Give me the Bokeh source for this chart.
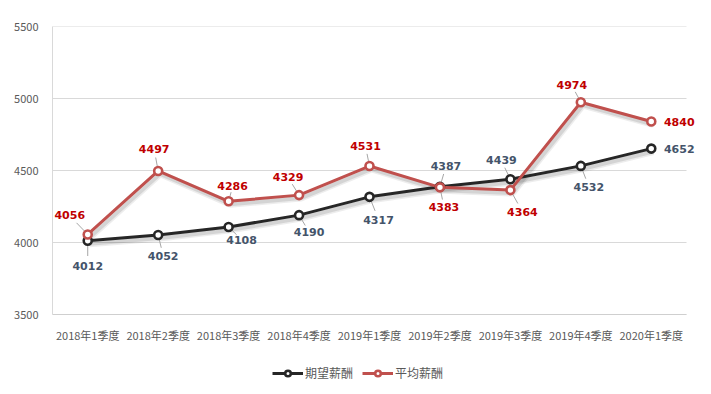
from bokeh.plotting import figure
from bokeh.layouts import column
from bokeh.models import ColumnDataSource, FixedTicker, Legend, LegendItem, Range1d
from bokeh.core.properties import value
from bokeh.embed import file_html
from bokeh.resources import INLINE

# ---- data ----
categories = ["2018年1季度", "2018年2季度", "2018年3季度", "2018年4季度", "2019年1季度",
              "2019年2季度", "2019年3季度", "2019年4季度", "2020年1季度"]
expected_salary = [4012, 4052, 4108, 4190, 4317, 4387, 4439, 4532, 4652]
average_salary = [4056, 4497, 4286, 4329, 4531, 4383, 4364, 4974, 4840]
y_ticks = [3500, 4000, 4500, 5000, 5500]
series_names = ["期望薪酬", "平均薪酬"]

# ---- label offsets in screen pixels (styling) ----
exp_dx = [0, 5, 13, 10, 9, 6, -9, 8, 28]
exp_dy = [25, 21, 13, 17, 23, -21, -19, 21, 0]
avg_dx = [-18, -4, 4, -11, -4, 4, 12, -9, 28]
avg_dy = [-19, -22, -15, -18, -20, 20, 22, -17, 0]
exp_leader = [True] * 8 + [False]
avg_leader = [True] * 8 + [False]

# ---- layout (styling) ----
W = 711
H1, H2 = 345, 49
BL, BR, BT, BB = 52, 5, 26, 26
PLOT_W = 634          # width that the 9 categories occupy
YMIN, YMAX = 3500, 5500
n = len(categories)
xs_px = PLOT_W / n
ys_px = (H1 - BT - BB) / (YMAX - YMIN)
x_end = -0.5 + (W - BL - BR) / xs_px

BLACK = "#262626"
RED = "#C0504D"
GRID = "#D9D9D9"

p = figure(width=W, height=H1, output_backend="svg", toolbar_location=None,
           x_range=Range1d(-0.5, x_end), y_range=Range1d(YMIN, YMAX),
           min_border_left=BL, min_border_right=BR, min_border_top=BT, min_border_bottom=BB)
p.outline_line_color = None
p.background_fill_color = "white"
p.border_fill_color = "white"

xi = list(range(n))

# horizontal gridlines, limited to the category area
p.xgrid.visible = False
p.ygrid.visible = False
p.segment(x0=[-0.5] * len(y_ticks), y0=y_ticks, x1=[n - 0.5] * len(y_ticks), y1=y_ticks,
          line_color=GRID, line_width=1)

# shadows
for vals in (expected_salary, average_salary):
    sx = [x + 2 / xs_px for x in xi]
    sy = [v - 3 / ys_px for v in vals]
    p.line(sx, sy, line_color="#000000", line_alpha=0.07, line_width=7)
    p.line(sx, sy, line_color="#000000", line_alpha=0.10, line_width=4)

# leader lines
def leaders(vals, dx, dy, use, frac=0.62):
    x0, y0, x1, y1 = [], [], [], []
    for i, v in enumerate(vals):
        if not use[i]:
            continue
        x0.append(xi[i]); y0.append(v)
        x1.append(xi[i] + dx[i] * frac / xs_px)
        y1.append(v - dy[i] * frac / ys_px)
    return x0, y0, x1, y1

for vals, dx, dy, use in ((expected_salary, exp_dx, exp_dy, exp_leader),
                          (average_salary, avg_dx, avg_dy, avg_leader)):
    x0, y0, x1, y1 = leaders(vals, dx, dy, use)
    p.segment(x0, y0, x1, y1, line_color="#A6A6A6", line_width=1)

p.line(xi, expected_salary, line_color=BLACK, line_width=3)
p.line(xi, average_salary, line_color=RED, line_width=3)
p.scatter(xi, expected_salary, size=8, fill_color="white", line_color=BLACK, line_width=2.6)
p.scatter(xi, average_salary, size=8, fill_color="white", line_color=RED, line_width=2.6)

src_exp = ColumnDataSource(dict(x=xi, y=expected_salary, t=[str(v) for v in expected_salary], dx=exp_dx, dy=exp_dy))
src_avg = ColumnDataSource(dict(x=xi, y=average_salary, t=[str(v) for v in average_salary], dx=avg_dx, dy=avg_dy))
for src, col in ((src_exp, "#44546A"), (src_avg, "#C00000")):
    p.text(x="x", y="y", text="t", x_offset="dx", y_offset="dy", source=src,
           text_align="center", text_baseline="middle", text_color=col,
           text_font=value("DejaVu Sans"), text_font_style="bold", text_font_size="11px")

# axes
p.xaxis.ticker = FixedTicker(ticks=xi)
p.xaxis.major_label_overrides = {i: c for i, c in enumerate(categories)}
p.xaxis.bounds = (-0.5, n - 0.5)
p.yaxis.ticker = FixedTicker(ticks=y_ticks)
for ax in (p.xaxis, p.yaxis):
    ax.major_tick_line_color = None
    ax.minor_tick_line_color = None
    ax.major_label_text_font = "Noto Sans CJK SC"
    ax.major_label_text_font_size = "11px"
    ax.major_label_text_color = "#595959"
p.xaxis.axis_line_color = "#CFCFCF"
p.yaxis.axis_line_color = GRID
p.xaxis.major_label_standoff = 6
p.yaxis.major_label_standoff = 8

# ---- legend strip (frame aligned with the chart's frame) ----
q = figure(width=W, height=H2, output_backend="svg", toolbar_location=None,
           x_range=Range1d(0, 1), y_range=Range1d(0, 1), min_border=0)
q.outline_line_color = None
q.axis.visible = False
q.grid.visible = False
# proxy glyphs kept outside the visible range; only their legend swatches show
proxy_x, proxy_y = [5, 6], [5, 6]
le_l = q.line(proxy_x, proxy_y, line_color=BLACK, line_width=3)
le_p = q.scatter(proxy_x, proxy_y, size=8, fill_color="white", line_color=BLACK, line_width=2.6)
la_l = q.line(proxy_x, proxy_y, line_color=RED, line_width=3)
la_p = q.scatter(proxy_x, proxy_y, size=8, fill_color="white", line_color=RED, line_width=2.6)
legend = Legend(items=[LegendItem(label=series_names[0], renderers=[le_l, le_p]),
                       LegendItem(label=series_names[1], renderers=[la_l, la_p])],
                location=(220, 13), orientation="horizontal",
                border_line_color=None, background_fill_alpha=0,
                label_text_font="Noto Sans CJK SC", label_text_font_size="12px",
                label_text_color="#595959", glyph_width=31, glyph_height=14,
                label_standoff=2, spacing=9, padding=0, margin=0)
q.add_layout(legend, "center")

open("out.html", "w").write(file_html(column(p, q, spacing=0), INLINE))
